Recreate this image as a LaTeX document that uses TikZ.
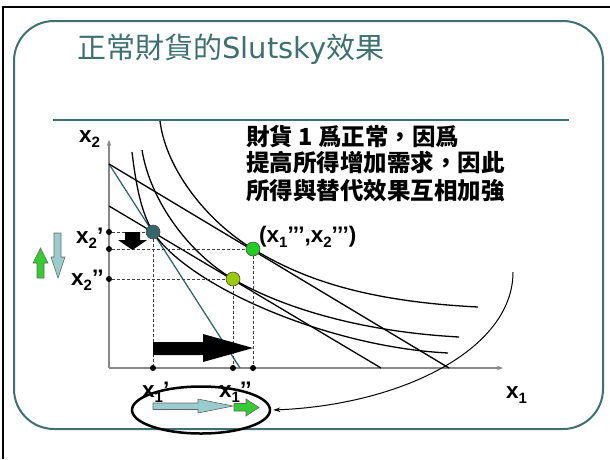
\documentclass[tikz,border=0pt]{standalone}
\usepackage{fontspec}
\setmainfont{Liberation Sans}
\newfontfamily\cjk{Noto Sans CJK TC}
\newfontfamily\djv{DejaVu Sans}
\usetikzlibrary{arrows.meta,shapes.geometric}
\definecolor{frameteal}{RGB}{62,112,112}
\definecolor{ptteal}{RGB}{52,104,104}
\definecolor{lblue}{RGB}{153,204,204}
\definecolor{arrgreen}{RGB}{51,204,51}
\definecolor{ptgreen}{RGB}{34,204,34}
\definecolor{ygreen}{RGB}{153,204,0}
\definecolor{axisgray}{RGB}{136,136,136}
\newcommand{\subx}[1]{\raisebox{-5pt}{\fontsize{15}{15}\selectfont #1}}
\begin{document}
\begin{tikzpicture}[x=1pt,y=-1pt,
  dot/.style={circle,fill=black,inner sep=0pt,minimum size=6pt},
  bigpt/.style={circle,draw=black!70,line width=0.6pt,inner sep=0pt,minimum size=14pt},
  lab/.style={inner sep=0pt,anchor=base west,font=\bfseries\fontsize{22.5}{22.5}\selectfont},
  icurve/.style={line width=1.3pt},
  dashline/.style={dash pattern=on 3pt off 2pt,line width=0.8pt,black!75},
  blockarr/.style={draw=black!60,line width=0.6pt},
  axisline/.style={axisgray,line width=1.8pt,-{Stealth[length=6pt,width=4.5pt]}}
]
\useasboundingbox (0,0) rectangle (610,459);
% frame
\draw[line width=2.5pt] (610,7) -- (3,7) -- (3,459);
\draw[frameteal,line width=2pt,rounded corners=40pt] (14,21) rectangle (603,429);
\draw[frameteal,line width=2.5pt] (53,120) -- (569,120);
\node[anchor=west,inner sep=0pt,text=frameteal,font=\cjk\fontsize{29}{29}\selectfont] (title) at (77,49) {正常財貨的{\djv Slutsky}效果};
% text
\node[anchor=west,inner sep=0pt,font=\cjk\bfseries\fontsize{23.5}{27}\selectfont] (t1) at (246,136) {財貨 1 爲正常，因爲};
\node[anchor=west,inner sep=0pt,font=\cjk\bfseries\fontsize{23.5}{27}\selectfont] (t2) at (246,163) {提高所得增加需求，因此};
\node[anchor=west,inner sep=0pt,font=\cjk\bfseries\fontsize{23.5}{27}\selectfont] (t3) at (246,191) {所得與替代效果互相加強};
% axes
\coordinate (O) at (109,368);
\coordinate (ytop) at (109,140);
\coordinate (xend) at (503,368);
\draw[axisline] (O) -- (ytop);
\draw[axisline] (O) -- (xend);
% budget lines
\coordinate (B1) at (109,164);
\coordinate (B1x) at (240,368);
\coordinate (B2x) at (449,368);
\coordinate (B3) at (109,206);
\coordinate (B3x) at (381,368);
\draw[ptteal,line width=1.3pt] (B1) -- (B1x);
\draw[line width=1.3pt] (B1) -- (B2x);
\draw[line width=1.3pt] (B3) -- (B3x);
% indifference curves
\draw[icurve] (132,152) .. controls (136,185) and (141,212) .. (153,232)
  .. controls (188,286) and (328,347) .. (448,353);
\draw[icurve] (142,150) .. controls (150,200) and (188,252.5) .. (233,279)
  .. controls (273,302.6) and (349,331) .. (459,337);
\draw[icurve] (160,121) .. controls (166,170) and (208,222) .. (253,249)
  .. controls (298,276) and (358,301) .. (478,307);
% axis dots
\node[dot] (ya) at (109,232) {};
\node[dot] (yb) at (109,249) {};
\node[dot] (yc) at (109,279) {};
\node[dot] (xa) at (153,368) {};
\node[dot] (xb) at (233,368) {};
\node[dot] (xc) at (253,368) {};
% points
\node[bigpt,fill=ptteal] (A) at (153,232) {};
\node[bigpt,fill=ptgreen] (C) at (253,249) {};
\node[bigpt,fill=ygreen] (Bp) at (233,279) {};
\draw[dashline] (ya) -- (A);
\draw[dashline] (yb) -- (C);
\draw[dashline] (yc) -- (Bp);
\draw[dashline] (A) -- (xa);
\draw[dashline] (Bp) -- (xb);
\draw[dashline] (C) -- (xc);
% block arrows
\fill (125,232) -- (140,232) -- (140,240) -- (147,240) -- (132.5,250) -- (118,240) -- (125,240) -- cycle;
\fill (153,342) -- (203,342) -- (203,334) -- (253,348) -- (203,362) -- (203,355) -- (153,355) -- cycle;
\filldraw[fill=arrgreen,blockarr] (40.5,248) -- (48,263) -- (44,263) -- (44,278) -- (37,278) -- (37,263) -- (33,263) -- cycle;
\filldraw[fill=lblue,blockarr] (54,233) -- (61,233) -- (61,257) -- (65,257) -- (58,278) -- (51,257) -- (54,257) -- cycle;
% labels
\node[lab] (lx2) at (79,142) {x\subx{2}};
\node[lab] (lx2p) at (76,243) {x\subx{2}’};
\node[lab] (lx2pp) at (71,285) {x\subx{2}’’};
\node[lab] (lpt) at (259,242) {(x\subx{1}’’’,x\subx{2}’’’)};
\node[lab] (lx1) at (506,398) {x\subx{1}};
\node[lab] (lx1p) at (142,397) {x\subx{1}’};
\node[lab] (lx1pp) at (219,397) {x\subx{1}’’};
% ellipse and arrows inside
\node[draw,ellipse,line width=2.5pt,minimum width=138pt,minimum height=47pt,inner sep=0pt] (E) at (201,410) {};
\filldraw[fill=lblue,blockarr] (153,403) -- (198,403) -- (198,399) -- (233,406) -- (198,413) -- (198,409.5) -- (153,409.5) -- cycle;
\filldraw[fill=arrgreen,blockarr] (234,403.5) -- (246,403.5) -- (246,399) -- (259,407.5) -- (246,416) -- (246,411) -- (234,411) -- cycle;
% offer curve arrow
\coordinate (off) at (513,272);
\draw[line width=1pt,-{Stealth[length=7pt,width=4.5pt]}] (off) .. controls (513,350) and (400,405) .. ([xshift=2pt]E.east);
\end{tikzpicture}
\end{document}
